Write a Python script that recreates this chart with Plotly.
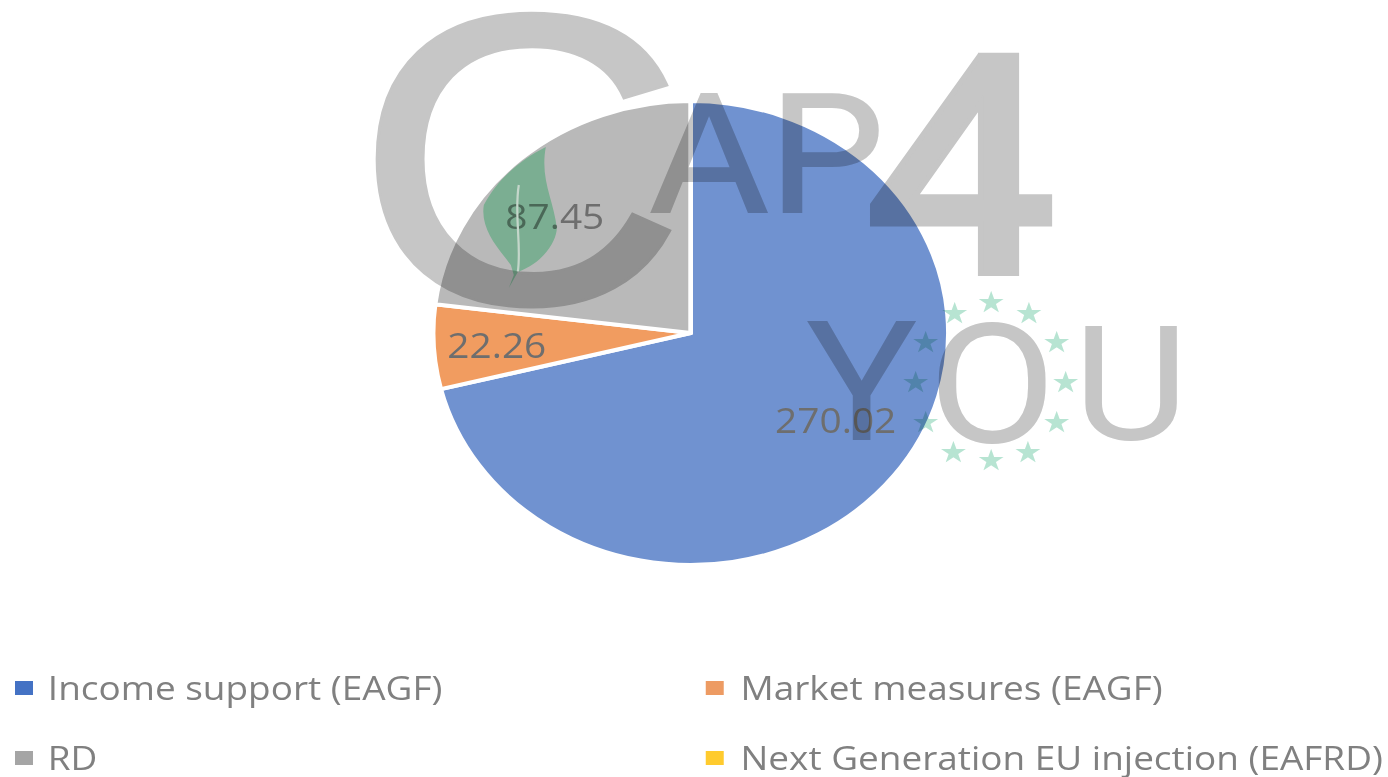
import plotly.graph_objects as go

W, H = 1388, 777
STRETCH = 1.11          # the reference is widened horizontally
FIG_W = round(W / STRETCH)

categories = ["Income support (EAGF)", "Market measures (EAGF)", "RD", "Next Generation EU injection (EAFRD)"]
values = [270.02, 22.26, 87.45, 0]
slice_colors = ["#7092D0", "#F19C60", "#B9B9B9", "#FFCB2E"]
legend_swatches = ["#4472C4", "#ED9B63", "#A5A5A5", "#FFCB2E"]

FONT = "Open Sans"


def px(x):
    return x / W


def py(y):
    return 1 - y / H


def pt(x, y):
    return f"{px(x):.5f},{py(y):.5f}"


fig = go.Figure(go.Pie(
    labels=categories, values=values, sort=False, direction="clockwise", rotation=0,
    marker=dict(colors=slice_colors, line=dict(color="white", width=4)),
    textinfo="none", hoverinfo="label+value", showlegend=False,
    domain=dict(x=[px(691) - 232 / FIG_W, px(691) + 232 / FIG_W], y=[py(565), py(101)]),
))

shapes = []
annotations = []

# data labels (sit under the watermark)
label_pos = [(836, 421), (497, 346), (555, 217)]
for v, (x, y) in zip(values[:3], label_pos):
    shapes.append(dict(type="rect", xref="paper", yref="paper",
                       x0=px(x - 70), x1=px(x + 70), y0=py(y + 26), y1=py(y - 24),
                       line=dict(width=0), fillcolor="rgba(0,0,0,0)", layer="above",
                       label=dict(text=f"{v:.2f}", textposition="middle center",
                                  font=dict(family=FONT, size=35, color="#6E6E6E"))))

# leaf of the watermark (index 3, blended over the slice by the page script)
leaf = ("M " + pt(546, 147) + " C " + pt(520, 160) + " " + pt(497, 180) + " " + pt(484, 205)
        + " C " + pt(480, 230) + " " + pt(500, 250) + " " + pt(511, 265)
        + " L " + pt(514, 275) + " L " + pt(509, 288) + " L " + pt(518, 272)
        + " C " + pt(545, 262) + " " + pt(557, 240) + " " + pt(557, 228)
        + " C " + pt(554, 200) + " " + pt(540, 180) + " " + pt(546, 147) + " Z")
shapes.append(dict(type="path", xref="paper", yref="paper", path=leaf,
                   fillcolor="#AAF0C9", line=dict(width=0), layer="above"))
shapes.append(dict(type="path", xref="paper", yref="paper",
                   path="M " + pt(519, 185) + " C " + pt(514, 215) + " " + pt(522, 245) + " " + pt(518, 272),
                   line=dict(color="#C4D6CA", width=2), layer="above"))

# legend
legend_pos = [(24, 688, 46), (715, 688, 738), (24, 758, 46), (715, 758, 738)]
for name, col, (sx, y, tx) in zip(categories, legend_swatches, legend_pos):
    shapes.append(dict(type="rect", xref="paper", yref="paper",
                       x0=px(sx - 9), x1=px(sx + 9), y0=py(y + 7), y1=py(y - 7),
                       fillcolor=col, line=dict(width=0), layer="above"))
    annotations.append(dict(text=name, xref="paper", yref="paper", x=px(tx), y=py(y - 1),
                            xanchor="left", yanchor="middle", showarrow=False,
                            font=dict(family=FONT, size=33.3, color="#808080")))

# watermark lettering
WM = "#C6C6C6"
wm_letters = [("C", 521, 159, 412, "Liberation Sans"), ("AP", 767, 155, 165, "Roboto"),
              ("4", 961, 168, 300, "Roboto"), ("Y", 862, 382, 168, "Roboto"),
              ("O", 993, 384, 168, "Roboto"), ("U", 1131, 384, 160, "Roboto")]
for t, x, y, s, f in wm_letters:
    annotations.append(dict(text=t, xref="paper", yref="paper", x=px(x), y=py(y),
                            xanchor="center", yanchor="middle", showarrow=False,
                            font=dict(family=f, size=s, color=WM)))

# ring of stars
stars = [(992, 302), (1029, 313), (1057, 342), (1066, 382), (1057, 422), (1028, 452),
         (992, 460), (954, 452), (926, 422), (916, 382), (926, 342), (955, 313)]
for x, y in stars:
    annotations.append(dict(text="★", xref="paper", yref="paper", x=px(x), y=py(y),
                            xanchor="center", yanchor="middle", showarrow=False,
                            font=dict(family="DejaVu Sans", size=29, color="#B7E4D2")))

fig.update_layout(width=FIG_W, height=H, margin=dict(l=0, r=0, t=0, b=0), paper_bgcolor="white",
                  shapes=shapes, annotations=annotations, showlegend=False)

post = f"""
document.documentElement.style.overflow='hidden';
document.body.style.margin='0';
document.body.style.overflow='hidden';
var gd=document.querySelector('.plotly-graph-div');
gd.style.transformOrigin='0 0';
gd.style.transform='scaleX({STRETCH})';
var top_svg=gd.querySelector('.infolayer').closest('svg');
top_svg.style.mixBlendMode='multiply';
var first_svg=gd.querySelector('.main-svg');
var above=gd.querySelector('.layer-above');
if(above) first_svg.appendChild(above);
var leaf=gd.querySelector('.layer-above [data-index="3"]');
if(leaf) leaf.style.mixBlendMode='multiply';
gd.querySelectorAll('.infolayer .annotation-text').forEach(function(t){{
  var s=t.textContent;
  var w=({{'C':5,'4':10,'AP':2}})[s];
  if(w){{ t.style.stroke='{WM}'; t.style.strokeWidth=w+'px'; t.style.paintOrder='stroke'; }}
}});
"""
fig.write_html("out.html", post_script=post, config=dict(displayModeBar=False))
